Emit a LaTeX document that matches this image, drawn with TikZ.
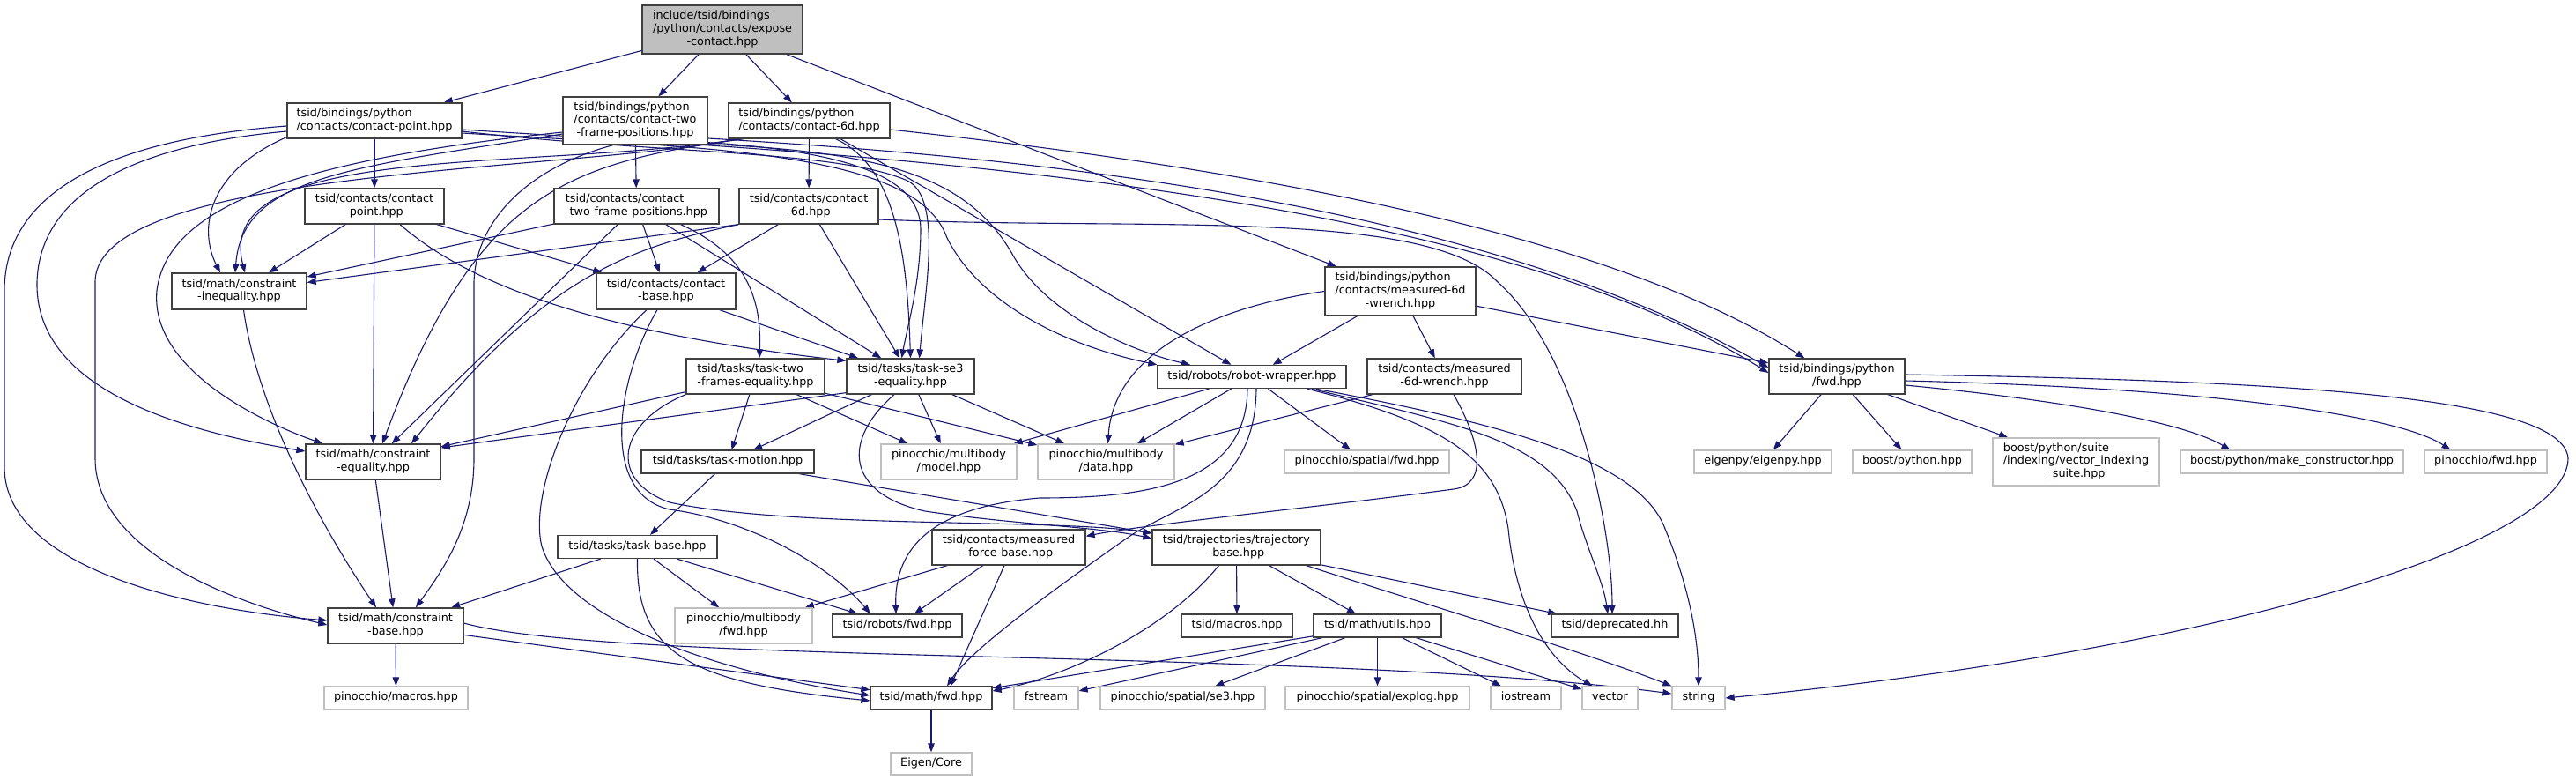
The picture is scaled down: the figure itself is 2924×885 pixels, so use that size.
\documentclass[tikz,border=0pt]{standalone}
\usepackage{fontspec}
\setmainfont{DejaVu Sans}
\usetikzlibrary{arrows.meta,calc}
\definecolor{edgeblue}{HTML}{191970}
\definecolor{grayborder}{HTML}{BFBFBF}
\definecolor{rootfill}{HTML}{BFBFBF}
\definecolor{nodeborder}{HTML}{404040}
\newcommand{\dxOne}[1]{\begin{tabular}{@{}c@{}}#1\end{tabular}}
\newcommand{\dxTwo}[2]{\begin{tabular}{@{}l@{}}#1\\\multicolumn{1}{@{}c@{}}{#2}\end{tabular}}
\newcommand{\dxThree}[3]{\begin{tabular}{@{}l@{}}#1\\#2\\\multicolumn{1}{@{}c@{}}{#3}\end{tabular}}
\pgfdeclarelayer{bglayer}
\pgfdeclarelayer{edgelayer}
\pgfsetlayers{bglayer,edgelayer,main}
\tikzset{
  nd/.style={draw=nodeborder, line width=1.3pt, fill=white, inner sep=0pt,
             font=\fontsize{12.8}{14.7}\selectfont},
  ndg/.style={nd, draw=grayborder},
  ndroot/.style={nd, fill=rootfill},
  sz/.style 2 args={minimum width=#1pt, minimum height=#2pt},
  dep/.style={draw=edgeblue, line width=1.1pt, -{Triangle[length=10pt,width=7.5pt]}}
}
\begin{document}
\begin{tikzpicture}[x=1pt,y=-1pt]
\begin{pgfonlayer}{bglayer}
\fill[white] (0,0) rectangle (2924,885);
\end{pgfonlayer}
\useasboundingbox (0,0) rectangle (2924,885);

% ---------- nodes ----------
\node[ndroot, sz={182}{55}] (root) at (820,33.5) {\dxThree{include/tsid/bindings}{/python/contacts/expose}{-contact.hpp}};
\node[nd, sz={198}{40}] (cp_py) at (425,137) {\dxTwo{tsid/bindings/python}{/contacts/contact-point.hpp}};
\node[nd, sz={164}{54}] (ctfp_py) at (721,137) {\dxThree{tsid/bindings/python}{/contacts/contact-two}{-frame-positions.hpp}};
\node[nd, sz={183}{40}] (c6d_py) at (918.5,137) {\dxTwo{tsid/bindings/python}{/contacts/contact-6d.hpp}};
\node[nd, sz={158}{40}] (cp) at (425,234) {\dxTwo{tsid/contacts/contact}{-point.hpp}};
\node[nd, sz={187}{40}] (ctfp) at (722.5,234) {\dxTwo{tsid/contacts/contact}{-two-frame-positions.hpp}};
\node[nd, sz={158}{40}] (c6d) at (918,234) {\dxTwo{tsid/contacts/contact}{-6d.hpp}};
\node[nd, sz={153}{41}] (ineq) at (271.5,330.5) {\dxTwo{tsid/math/constraint}{-inequality.hpp}};
\node[nd, sz={158}{41}] (cbase) at (756,330.5) {\dxTwo{tsid/contacts/contact}{-base.hpp}};
\node[nd, sz={171}{55}] (m6dw_py) at (1589.5,330.5) {\dxThree{tsid/bindings/python}{/contacts/measured-6d}{-wrench.hpp}};
\node[nd, sz={157}{40}] (tsk2) at (857.5,427) {\dxTwo{tsid/tasks/task-two}{-frames-equality.hpp}};
\node[nd, sz={145}{40}] (tse3) at (1033.5,427) {\dxTwo{tsid/tasks/task-se3}{-equality.hpp}};
\node[nd, sz={214}{26}] (rw) at (1421,427.5) {\dxOne{tsid/robots/robot-wrapper.hpp}};
\node[nd, sz={175}{40}] (m6dw) at (1639.5,427) {\dxTwo{tsid/contacts/measured}{-6d-wrench.hpp}};
\node[nd, sz={154}{40}] (pfwd_py) at (2085,427) {\dxTwo{tsid/bindings/python}{/fwd.hpp}};
\node[nd, sz={153}{40}] (eq) at (423.5,524) {\dxTwo{tsid/math/constraint}{-equality.hpp}};
\node[nd, sz={196}{26}] (tmot) at (826,524) {\dxOne{tsid/tasks/task-motion.hpp}};
\node[ndg, sz={154}{40}] (pmodel) at (1077,524) {\dxTwo{pinocchio/multibody}{/model.hpp}};
\node[ndg, sz={155}{40}] (pdata) at (1255.5,524) {\dxTwo{pinocchio/multibody}{/data.hpp}};
\node[ndg, sz={187}{26}] (pspfwd) at (1551.5,524) {\dxOne{pinocchio/spatial/fwd.hpp}};
\node[ndg, sz={156}{26}] (eigenpy) at (2001,524) {\dxOne{eigenpy/eigenpy.hpp}};
\node[ndg, sz={135}{26}] (bpy) at (2170.5,524) {\dxOne{boost/python.hpp}};
\node[ndg, sz={189}{54}] (bvis) at (2356.5,524) {\dxThree{boost/python/suite}{/indexing/vector\_indexing}{\_suite.hpp}};
\node[ndg, sz={253}{26}] (bmc) at (2601.5,524) {\dxOne{boost/python/make\_constructor.hpp}};
\node[ndg, sz={139}{26}] (pfwd) at (2821.5,524) {\dxOne{pinocchio/fwd.hpp}};
\node[nd, sz={181}{26}] (tbase) at (723.5,620.5) {\dxOne{tsid/tasks/task-base.hpp}};
\node[nd, sz={174}{40}] (mfbase) at (1145,621) {\dxTwo{tsid/contacts/measured}{-force-base.hpp}};
\node[nd, sz={191}{40}] (trajbase) at (1403.5,621) {\dxTwo{tsid/trajectories/trajectory}{-base.hpp}};
\node[nd, sz={154}{40}] (cstrbase) at (449,710) {\dxTwo{tsid/math/constraint}{-base.hpp}};
\node[ndg, sz={156}{40}] (pmbfwd) at (844,710) {\dxTwo{pinocchio/multibody}{/fwd.hpp}};
\node[nd, sz={147}{26}] (rfwd) at (1018.5,710) {\dxOne{tsid/robots/fwd.hpp}};
\node[nd, sz={126}{26}] (tmacros) at (1404,710) {\dxOne{tsid/macros.hpp}};
\node[nd, sz={145}{26}] (mutils) at (1563.5,710) {\dxOne{tsid/math/utils.hpp}};
\node[nd, sz={144}{26}] (deprec) at (1833,710) {\dxOne{tsid/deprecated.hh}};
\node[ndg, sz={163}{26}] (pmacros) at (449.5,792) {\dxOne{pinocchio/macros.hpp}};
\node[nd, sz={138}{26}] (mfwd) at (1057,792) {\dxOne{tsid/math/fwd.hpp}};
\node[ndg, sz={73}{26}] (fstream) at (1187.5,792) {\dxOne{fstream}};
\node[ndg, sz={187}{26}] (pse3) at (1342.5,792) {\dxOne{pinocchio/spatial/se3.hpp}};
\node[ndg, sz={209}{26}] (pexplog) at (1563.5,792) {\dxOne{pinocchio/spatial/explog.hpp}};
\node[ndg, sz={80}{26}] (iostream) at (1732,792) {\dxOne{iostream}};
\node[ndg, sz={63}{26}] (vector) at (1827.5,792) {\dxOne{vector}};
\node[ndg, sz={60}{26}] (string) at (1928,792) {\dxOne{string}};
\node[ndg, sz={92}{25}] (eigen) at (1057,866.5) {\dxOne{Eigen/Core}};

% ---------- edges ----------
\begin{pgfonlayer}{edgelayer}
% root
\draw[dep] (root) -- (cp_py);
\draw[dep] (root) -- (ctfp_py);
\draw[dep] (root) -- (c6d_py);
\draw[dep] (root) -- (m6dw_py);
% bindings contact-point
\draw[dep] (cp_py) -- (cp);
\draw[dep] ($(cp_py.south west)+(0,-2)$) .. controls (235,195) and (225,260) .. ($(ineq.north)+(-21.5,0)$);
\draw[dep] ($(cp_py.west)+(0,12)$) .. controls (150,165) and (45,220) .. (42,320) .. controls (40,420) and (150,480) .. ($(eq.west)+(0,-12)$);
\draw[dep] ($(cp_py.west)+(0,6)$) .. controls (100,160) and (5,230) .. (5,330) -- (5,530) .. controls (5,640) and (200,690) .. ($(cstrbase.west)+(0,-6)$);
\draw[dep] ($(cp_py.east)+(0,12)$) .. controls (750,175) and (950,170) .. (1030,205) .. controls (1070,225) and (1050,330) .. ($(tse3.north)+(10,0)$);
\draw[dep] ($(cp_py.east)+(0,14)$) .. controls (800,168) and (1040,170) .. (1075,270) .. controls (1110,340) and (1200,390) .. (rw.north west);
\draw[dep] ($(cp_py.east)+(0,10)$) .. controls (900,172) and (1650,200) .. ($(pfwd_py.west)+(0,-4)$);
% bindings contact-two-frame-positions
\draw[dep] (ctfp_py) -- (ctfp);
\draw[dep] ($(ctfp_py.west)+(0,15)$) .. controls (400,190) and (275,200) .. ($(ineq.north)+(-4.5,0)$);
\draw[dep] ($(ctfp_py.west)+(0,13)$) .. controls (350,180) and (190,230) .. (178,330) .. controls (170,420) and (300,480) .. ($(eq.north west)+(20,0)$);
\draw[dep] ($(ctfp_py.south)+(-25,0)$) .. controls (600,190) and (540,250) .. (538,320) -- (538,520) .. controls (538,600) and (500,650) .. ($(cstrbase.north)+(23,0)$);
\draw[dep] ($(ctfp_py.south east)+(0,-3)$) .. controls (960,172) and (1045,200) .. (1045,260) .. controls (1045,320) and (1030,370) .. ($(tse3.north)+(-10,0)$);
\draw[dep] ($(ctfp_py.south east)+(0,-1)$) .. controls (1000,172) and (1100,200) .. (1150,290) .. controls (1190,360) and (1290,400) .. ($(rw.north)+(-70,0)$);
\draw[dep] ($(ctfp_py.east)+(0,20)$) .. controls (1100,175) and (1650,215) .. ($(pfwd_py.west)+(0,-10)$);
% bindings contact-6d
\draw[dep] (c6d_py) -- (c6d);
\draw[dep] (c6d_py) -- (rw);
\draw[dep] ($(c6d_py.south west)+(15,0)$) .. controls (600,195) and (240,160) .. ($(ineq.north)+(6.5,0)$);
\draw[dep] ($(c6d_py.south west)+(18,0)$) .. controls (640,185) and (540,220) .. ($(eq.north)+(10.5,0)$);
\draw[dep] ($(c6d_py.south west)+(12,0)$) .. controls (650,195) and (108,190) .. (108,320) -- (108,520) .. controls (108,620) and (250,680) .. ($(cstrbase.west)+(0,-1)$);
\draw[dep] ($(c6d_py.south)+(30,0)$) .. controls (1020,190) and (1030,300) .. (tse3.north);
\draw[dep] ($(c6d_py.east)+(0,10)$) .. controls (1500,200) and (1850,280) .. ($(pfwd_py.north west)+(41,0)$);
% bindings measured-6d-wrench
\draw[dep] (m6dw_py) -- (pfwd_py);
\draw[dep] (m6dw_py) -- (m6dw);
\draw[dep] (m6dw_py) -- (rw);
\draw[dep] (m6dw_py.west) .. controls (1400,345) and (1265,390) .. ($(pdata.north)+(2,0)$);
% contact-point
\draw[dep] (cp) -- (ineq);
\draw[dep] (cp) -- (eq);
\draw[dep] (cp) -- (cbase);
\draw[dep] ($(cp.south)+(29,0)$) .. controls (540,330) and (700,380) .. ($(tse3.north west)+(0,3)$);
% contact-two-frame-positions
\draw[dep] (ctfp) -- (ineq);
\draw[dep] (ctfp) -- (eq);
\draw[dep] (ctfp) -- (cbase);
\draw[dep] (ctfp) -- (tse3);
\draw[dep] ($(ctfp.south)+(50,0)$) .. controls (840,285) and (865,330) .. ($(tsk2.north)+(4.5,0)$);
% contact-6d
\draw[dep] (c6d.south west) -- ($(ineq.east)+(0,-10)$);
\draw[dep] (c6d.south west) .. controls (720,280) and (620,310) .. ($(eq.north)+(43.5,0)$);
\draw[dep] (c6d) -- (cbase);
\draw[dep] (c6d) -- (tse3);
\draw[dep] ($(c6d.east)+(0,15)$) .. controls (1300,262) and (1620,235) .. (1700,320) .. controls (1790,400) and (1830,600) .. ($(deprec.north)+(-3,0)$);
% constraints
\draw[dep] ($(ineq.south)+(5,0)$) .. controls (295,480) and (380,620) .. ($(cstrbase.north)+(-22,0)$);
\draw[dep] (eq) -- (cstrbase);
% contact-base
\draw[dep] (cbase) -- (tse3);
\draw[dep] ($(cbase.south)+(-10,0)$) .. controls (700,430) and (680,560) .. (760,578) .. controls (850,590) and (940,640) .. ($(rfwd.north)+(-30.5,0)$);
\draw[dep] ($(cbase.south)+(-22,0)$) .. controls (650,430) and (600,560) .. (615,620) .. controls (640,700) and (800,760) .. ($(mfwd.west)+(0,-3)$);
% task-two-frames-equality
\draw[dep] (tsk2) -- (eq);
\draw[dep] (tsk2) -- (tmot);
\draw[dep] (tsk2) -- (pmodel);
\draw[dep] (tsk2) -- (pdata);
\draw[dep] (tsk2.south west) .. controls (700,480) and (690,545) .. (760,570) .. controls (900,600) and (1200,588) .. ($(trajbase.west)+(0,-16)$);
% task-se3-equality
\draw[dep] ($(tse3.south west)+(0,-2)$) -- ($(eq.east)+(0,-16)$);
\draw[dep] (tse3) -- (tmot);
\draw[dep] (tse3) -- (pmodel);
\draw[dep] (tse3) -- (pdata);
\draw[dep] ($(tse3.south)+(-18.5,0)$) .. controls (955,500) and (960,560) .. (1050,580) .. controls (1150,595) and (1250,598) .. ($(trajbase.west)+(0,-10)$);
% task-motion
\draw[dep] (tmot) -- (tbase);
\draw[dep] (tmot) -- (trajbase);
% task-base
\draw[dep] (tbase) -- (cstrbase);
\draw[dep] (tbase) -- (pmbfwd);
\draw[dep] (tbase) -- (rfwd);
\draw[dep] (tbase.south) .. controls (722,740) and (780,775) .. ($(mfwd.west)+(0,3)$);
% robot-wrapper
\draw[dep] (rw) -- (pmodel);
\draw[dep] (rw) -- (pdata);
\draw[dep] (rw) -- (pspfwd);
\draw[dep] ($(rw.south)+(-5,0)$) .. controls (1415,550) and (1300,565) .. (1180,565) .. controls (1060,575) and (1015,620) .. ($(rfwd.north)+(-1.5,0)$);
\draw[dep] ($(rw.south)+(5,0)$) .. controls (1425,560) and (1330,575) .. (1280,610) .. controls (1180,680) and (1100,740) .. ($(mfwd.north)+(18,0)$);
\draw[dep] ($(rw.south east)+(-40,0)$) .. controls (1650,480) and (1760,500) .. (1790,580) .. controls (1800,620) and (1820,660) .. ($(deprec.north)+(-8,0)$);
\draw[dep] ($(rw.south east)+(-45,0)$) .. controls (1640,480) and (1700,520) .. (1712,600) .. controls (1720,680) and (1750,745) .. ($(vector.north)+(-20,0)$);
\draw[dep] ($(rw.south east)+(-35,0)$) .. controls (1700,480) and (1860,520) .. (1890,600) .. controls (1915,660) and (1928,720) .. (string.north);
% measured-6d-wrench
\draw[dep] ($(m6dw.south)+(10.5,0)$) .. controls (1680,500) and (1690,550) .. (1650,555) .. controls (1500,575) and (1300,595) .. ($(mfbase.north east)+(0,8)$);
\draw[dep] (m6dw) -- (pdata);
% bindings fwd
\draw[dep] (pfwd_py) -- (eigenpy);
\draw[dep] (pfwd_py) -- (bpy);
\draw[dep] (pfwd_py) -- (bvis);
\draw[dep] ($(pfwd_py.east)+(0,10)$) .. controls (2350,455) and (2480,480) .. ($(bmc.north)+(-70,0)$);
\draw[dep] ($(pfwd_py.east)+(0,5)$) .. controls (2500,440) and (2720,470) .. ($(pfwd.north)+(-40,0)$);
\draw[dep] ($(pfwd_py.east)+(0,-2)$) .. controls (2600,432) and (2910,450) .. (2915,520) .. controls (2915,620) and (2500,740) .. (string.east);
% measured-force-base
\draw[dep] (mfbase) -- (pmbfwd);
\draw[dep] (mfbase) -- (rfwd);
\draw[dep] ($(mfbase.south)+(-5,0)$) -- ($(mfwd.north)+(22,0)$);
% trajectory-base
\draw[dep] (trajbase) -- (tmacros);
\draw[dep] (trajbase) -- (mutils);
\draw[dep] (trajbase) -- (deprec);
\draw[dep] ($(trajbase.south east)+(-17,0)$) .. controls (1600,680) and (1800,740) .. (string.north west);
\draw[dep] ($(trajbase.south)+(-20,0)$) .. controls (1320,720) and (1200,770) .. ($(mfwd.east)+(0,-8)$);
% constraint-base
\draw[dep] (cstrbase) -- (pmacros);
\draw[dep] (cstrbase) -- (mfwd);
\draw[dep] ($(cstrbase.east)+(0,-3)$) .. controls (700,755) and (1500,735) .. ($(string.west)+(0,-5)$);
% math utils
\draw[dep] (mutils) -- (mfwd);
\draw[dep] (mutils) -- (fstream);
\draw[dep] (mutils) -- (pse3);
\draw[dep] (mutils) -- (pexplog);
\draw[dep] (mutils) -- (iostream);
\draw[dep] (mutils) -- (vector);
% math fwd
\draw[dep] (mfwd) -- (eigen);
\end{pgfonlayer}
\end{tikzpicture}
\end{document}
